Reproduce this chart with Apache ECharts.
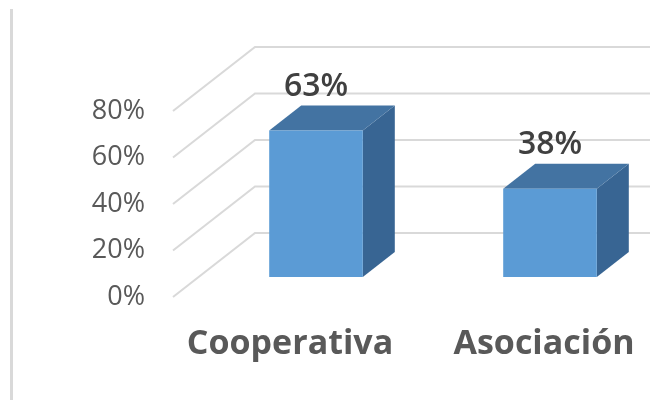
<!DOCTYPE html>
<html>
<head>
<meta charset="utf-8">
<script src="https://cdn.jsdelivr.net/npm/echarts@6/dist/echarts.min.js"></script>
<style>
  html, body { margin: 0; padding: 0; background: #fff; }
  #chart { width: 650px; height: 400px; }
</style>
</head>
<body>
<div id="chart"></div>
<script>
var categories = ['Cooperativa', 'Asociación'];
var values = [63, 38];
var yTicks = [0, 20, 40, 60, 80];

// 3d look, pixel offsets
var wallDx = 82, wallDy = -64;      // front plane -> back wall
var barFrontDx = 26, barFrontDy = -20;
var barDx = 32, barDy = -25;        // bar depth

var myChart = echarts.init(document.getElementById('chart'));

var option = {
    backgroundColor: '#fff',
    animation: false,
    grid: { left: 173, right: 9, top: 111, bottom: 103 },
    graphic: [{
        type: 'rect',
        shape: { x: 10, y: 9, width: 3, height: 400 },
        style: { fill: '#d9d9d9' }
    }],
    xAxis: {
        type: 'category',
        data: categories,
        axisLine: { show: false },
        axisTick: { show: false },
        axisLabel: {
            interval: 0,
            hideOverlap: false,
            margin: 30,
            fontFamily: 'Open Sans',
            fontSize: 34,
            fontWeight: 'bold',
            color: '#595959',
            formatter: function (v, i) {
                return i == 1 ? '{b|' + v + '}' : '{a|' + v + '}';
            },
            rich: {
                a: { fontFamily: 'Open Sans', fontSize: 34, fontWeight: 'bold', color: '#595959' },
                b: { fontFamily: 'Open Sans', fontSize: 34, fontWeight: 'bold', color: '#595959', padding: [0, 0, 0, 40] }
            }
        }
    },
    yAxis: {
        type: 'value',
        min: 0,
        max: 80,
        interval: 20,
        axisLine: { show: false },
        axisTick: { show: false },
        splitLine: { show: false },
        axisLabel: {
            margin: 28,
            fontFamily: 'Open Sans',
            fontSize: 27,
            color: '#595959',
            formatter: '{value}%'
        }
    },
    series: [
        {
            // floor/back wall gridlines
            type: 'custom',
            silent: true,
            z: 1,
            data: yTicks.map(function (t) { return [0, t]; }),
            renderItem: function (params, api) {
                var p = api.coord([0, api.value(1)]);
                var x0 = params.coordSys.x;
                var y = p[1];
                return {
                    type: 'polyline',
                    shape: { points: [[x0, y], [x0 + wallDx, y + wallDy], [650, y + wallDy]] },
                    style: { stroke: '#d9d9d9', lineWidth: 2, fill: null }
                };
            }
        },
        {
            type: 'custom',
            z: 3,
            data: values.map(function (v, i) { return [i, v]; }),
            renderItem: function (params, api) {
                var top = api.coord([api.value(0), api.value(1)]);
                var base = api.coord([api.value(0), 0]);
                var w = api.size([1, 0])[0] * 0.40;
                var x1 = top[0] - w / 2 + barFrontDx;
                var x2 = top[0] + w / 2 + barFrontDx;
                var yt = top[1] + barFrontDy;
                var yb = base[1] + barFrontDy;
                return {
                    type: 'group',
                    children: [
                        {
                            type: 'polygon',
                            shape: { points: [[x2, yt], [x2 + barDx, yt + barDy], [x2 + barDx, yb + barDy], [x2, yb]] },
                            style: { fill: '#386593' }
                        },
                        {
                            type: 'polygon',
                            shape: { points: [[x1, yt], [x1 + barDx, yt + barDy], [x2 + barDx, yt + barDy], [x2, yt]] },
                            style: { fill: '#4373a2' }
                        },
                        {
                            type: 'rect',
                            shape: { x: x1, y: yt, width: x2 - x1, height: yb - yt },
                            style: { fill: '#5b9bd5' }
                        },
                        {
                            type: 'text',
                            style: {
                                text: api.value(1) + '%',
                                x: (x1 + x2) / 2,
                                y: yt + barDy - 3,
                                align: 'center',
                                verticalAlign: 'bottom',
                                fontFamily: 'Open Sans',
                                fontSize: 32,
                                fontWeight: 600,
                                fill: '#404040'
                            }
                        }
                    ]
                };
            }
        }
    ]
};

option && myChart.setOption(option);
</script>
</body>
</html>
